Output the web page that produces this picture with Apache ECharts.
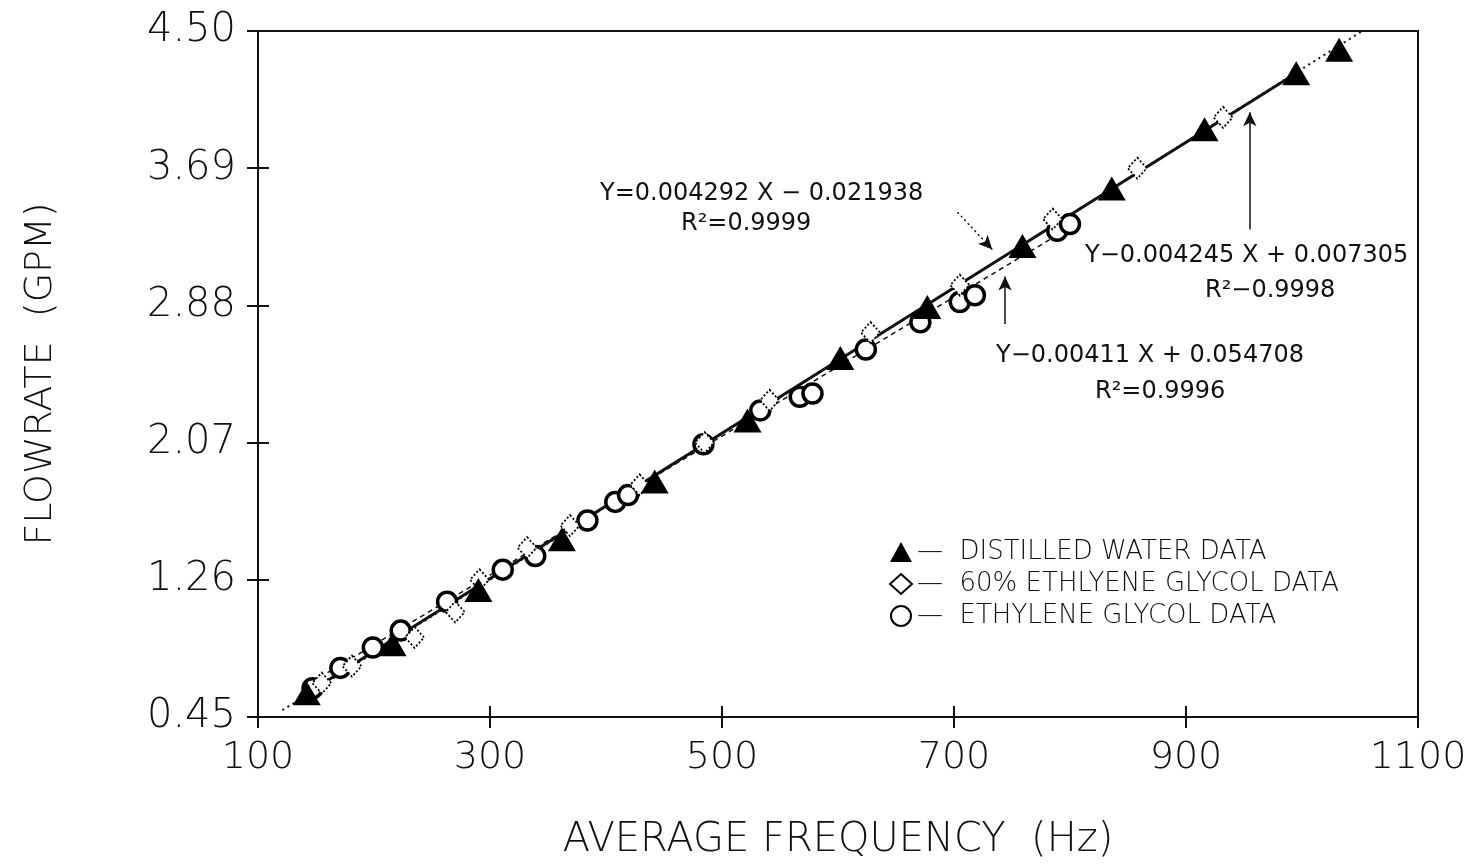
<!DOCTYPE html>
<html>
<head>
<meta charset="utf-8">
<script src="https://cdn.jsdelivr.net/npm/echarts@6/dist/echarts.min.js"></script>
<style>
html,body{margin:0;padding:0;background:#fff;}
#chart{width:1477px;height:866px;}
</style>
</head>
<body>
<div id="chart"></div>
<script>
// ---- Data ----
const waterX = [142, 216, 290, 362, 442, 522, 602, 677, 759, 836, 916, 995, 1032];
const waterY = [0.59, 0.88, 1.20, 1.50, 1.84, 2.20, 2.57, 2.87, 3.23, 3.57, 3.92, 4.25, 4.39];

const glycol60X = [155, 181, 235, 270, 291, 332, 369, 429, 485, 541, 628, 705, 785, 858, 932];
const glycol60Y = [0.65, 0.75, 0.92, 1.07, 1.26, 1.45, 1.58, 1.82, 2.07, 2.32, 2.72, 3.00, 3.39, 3.69, 3.99];

const glycolX = [147, 171, 199, 223, 263, 311, 339, 384, 408, 419, 484, 533, 567, 578, 624, 671, 705, 718, 789, 800];
const glycolY = [0.62, 0.74, 0.86, 0.96, 1.13, 1.32, 1.40, 1.61, 1.72, 1.76, 2.06, 2.26, 2.34, 2.36, 2.62, 2.78, 2.90, 2.94, 3.32, 3.36];

// fitted lines drawn on the chart (endpoints)
const fitSolidX = [140, 995];
const fitSolidY = [0.58, 4.25];
const fitDottedX = [121, 1052];
const fitDottedY = [0.49, 4.50];
const fitGlycolX = [140, 800];
const fitGlycolY = [0.63, 3.34];

const xTicks = [100, 300, 500, 700, 900, 1100];
const yTicks = [0.45, 1.26, 2.07, 2.88, 3.69, 4.50];

const seriesNames = ['DISTILLED WATER DATA', '60% ETHLYENE GLYCOL DATA', 'ETHYLENE GLYCOL DATA'];

const eqWater = ['Y=0.004292 X \u2212 0.021938', 'R\u00b2=0.9999'];
const eqGlycol60 = ['Y\u22120.004245 X + 0.007305', 'R\u00b2\u22120.9998'];
const eqGlycol = ['Y\u22120.00411 X + 0.054708', 'R\u00b2=0.9996'];

// arrows (data coords)
const arrow1 = [[703, 3.43], [733, 3.21]];
const arrow2 = [[744, 2.77], [744, 3.05]];
const arrow3 = [[955, 3.33], [955, 4.02]];

function zip(a, b) { return a.map((v, i) => [v, b[i]]); }

const FONT = 'DejaVu Sans';
const INK = '#111111';

const chart = echarts.init(document.getElementById('chart'), null, {renderer: 'canvas'});

const baseX = {
  type: 'value', min: xTicks[0], max: xTicks[xTicks.length - 1], interval: 200,
  position: 'bottom',
  axisLine: {show: true, lineStyle: {color: INK, width: 2}},
  splitLine: {show: false}
};
const baseY = {
  type: 'value', min: yTicks[0], max: yTicks[yTicks.length - 1], interval: 0.81,
  position: 'left',
  axisLine: {show: true, lineStyle: {color: INK, width: 2}},
  splitLine: {show: false}
};

const annFont = '24px "DejaVu Sans"';

const option = {
  backgroundColor: '#ffffff',
  animation: false,
  grid: {left: 258, right: 59, top: 31, bottom: 149, show: true, borderColor: INK, borderWidth: 2, backgroundColor: 'transparent'},
  xAxis: [
    Object.assign({}, baseX, {
      name: 'AVERAGE FREQUENCY  (Hz)', nameLocation: 'middle', nameGap: 104,
      nameTextStyle: {fontFamily: FONT, fontWeight: 200, fontSize: 40, color: INK},
      axisTick: {show: true, inside: false, length: 11, lineStyle: {color: INK, width: 2}},
      axisLabel: {show: true, margin: 22, fontFamily: FONT, fontWeight: 200, fontSize: 38, color: INK,
        formatter: v => String(v)}
    }),
    Object.assign({}, baseX, {
      axisTick: {show: true, inside: true, length: 11, lineStyle: {color: INK, width: 2}},
      axisLabel: {show: false}
    })
  ],
  yAxis: [
    Object.assign({}, baseY, {
      name: 'FLOWRATE  (GPM)', nameLocation: 'middle', nameGap: 198, nameRotate: 90,
      nameTextStyle: {fontFamily: FONT, fontWeight: 200, fontSize: 38, color: INK},
      axisTick: {show: true, inside: false, length: 11, lineStyle: {color: INK, width: 2}},
      axisLabel: {show: true, margin: 22, fontFamily: FONT, fontWeight: 200, fontSize: 40, color: INK,
        formatter: v => v.toFixed(2)}
    }),
    Object.assign({}, baseY, {
      axisTick: {show: true, inside: true, length: 11, lineStyle: {color: INK, width: 2}},
      axisLabel: {show: false}
    })
  ],
  legend: {
    orient: 'vertical', left: 884, top: 534, itemGap: 6, itemWidth: 22, itemHeight: 20,
    data: seriesNames,
    formatter: n => '\u2014  ' + n,
    textStyle: {fontFamily: FONT, fontSize: 26, color: INK, fontWeight: 200}
  },
  series: [
    {
      name: 'fitDotted', type: 'line', data: zip(fitDottedX, fitDottedY), symbol: 'none', silent: true,
      lineStyle: {color: INK, width: 2, type: [2, 4]}, z: 1
    },
    {
      name: 'fitGlycol', type: 'line', data: zip(fitGlycolX, fitGlycolY), symbol: 'none', silent: true,
      lineStyle: {color: INK, width: 1.5, type: [5, 4]}, z: 1
    },
    {
      name: 'fitSolid', type: 'line', data: zip(fitSolidX, fitSolidY), symbol: 'none', silent: true,
      lineStyle: {color: INK, width: 3}, z: 1,
      markLine: {
        silent: true, symbol: ['none', 'arrow'], symbolSize: [10, 14],
        label: {show: false},
        lineStyle: {color: INK, width: 1.5, type: 'solid'},
        data: [
          [{coord: arrow1[0], lineStyle: {type: [2, 3]}}, {coord: arrow1[1]}],
          [{coord: arrow2[0]}, {coord: arrow2[1]}],
          [{coord: arrow3[0]}, {coord: arrow3[1]}]
        ]
      }
    },
    {
      name: seriesNames[2], type: 'scatter', data: zip(glycolX, glycolY), symbol: 'circle', symbolSize: 19,
      itemStyle: {color: '#ffffff', borderColor: '#000', borderWidth: 3.5, opacity: 1}, z: 3
    },
    {
      name: seriesNames[1], type: 'scatter', data: zip(glycol60X, glycol60Y), symbol: 'diamond', symbolSize: [19, 21],
      itemStyle: {color: '#ffffff', borderColor: '#000', borderWidth: 1.8, borderType: [2, 2], opacity: 1}, z: 4
    },
    {
      name: seriesNames[0], type: 'scatter', data: zip(waterX, waterY), symbol: 'triangle', symbolSize: [28, 24],
      itemStyle: {color: '#000000', borderWidth: 0, opacity: 1}, z: 5
    }
  ],
  graphic: [
    {type: 'text', left: 600, top: 182, style: {text: eqWater[0], font: annFont, fill: INK}},
    {type: 'text', left: 681, top: 212, style: {text: eqWater[1], font: annFont, fill: INK}},
    {type: 'text', left: 1085, top: 244, style: {text: eqGlycol60[0], font: annFont, fill: INK}},
    {type: 'text', left: 1205, top: 279, style: {text: eqGlycol60[1], font: annFont, fill: INK}},
    {type: 'text', left: 996, top: 344, style: {text: eqGlycol[0], font: annFont, fill: INK}},
    {type: 'text', left: 1095, top: 380, style: {text: eqGlycol[1], font: annFont, fill: INK}}
  ]
};
option.series.forEach(s => { s.xAxisIndex = 0; s.yAxisIndex = 0; });
chart.setOption(option);
</script>
</body>
</html>
